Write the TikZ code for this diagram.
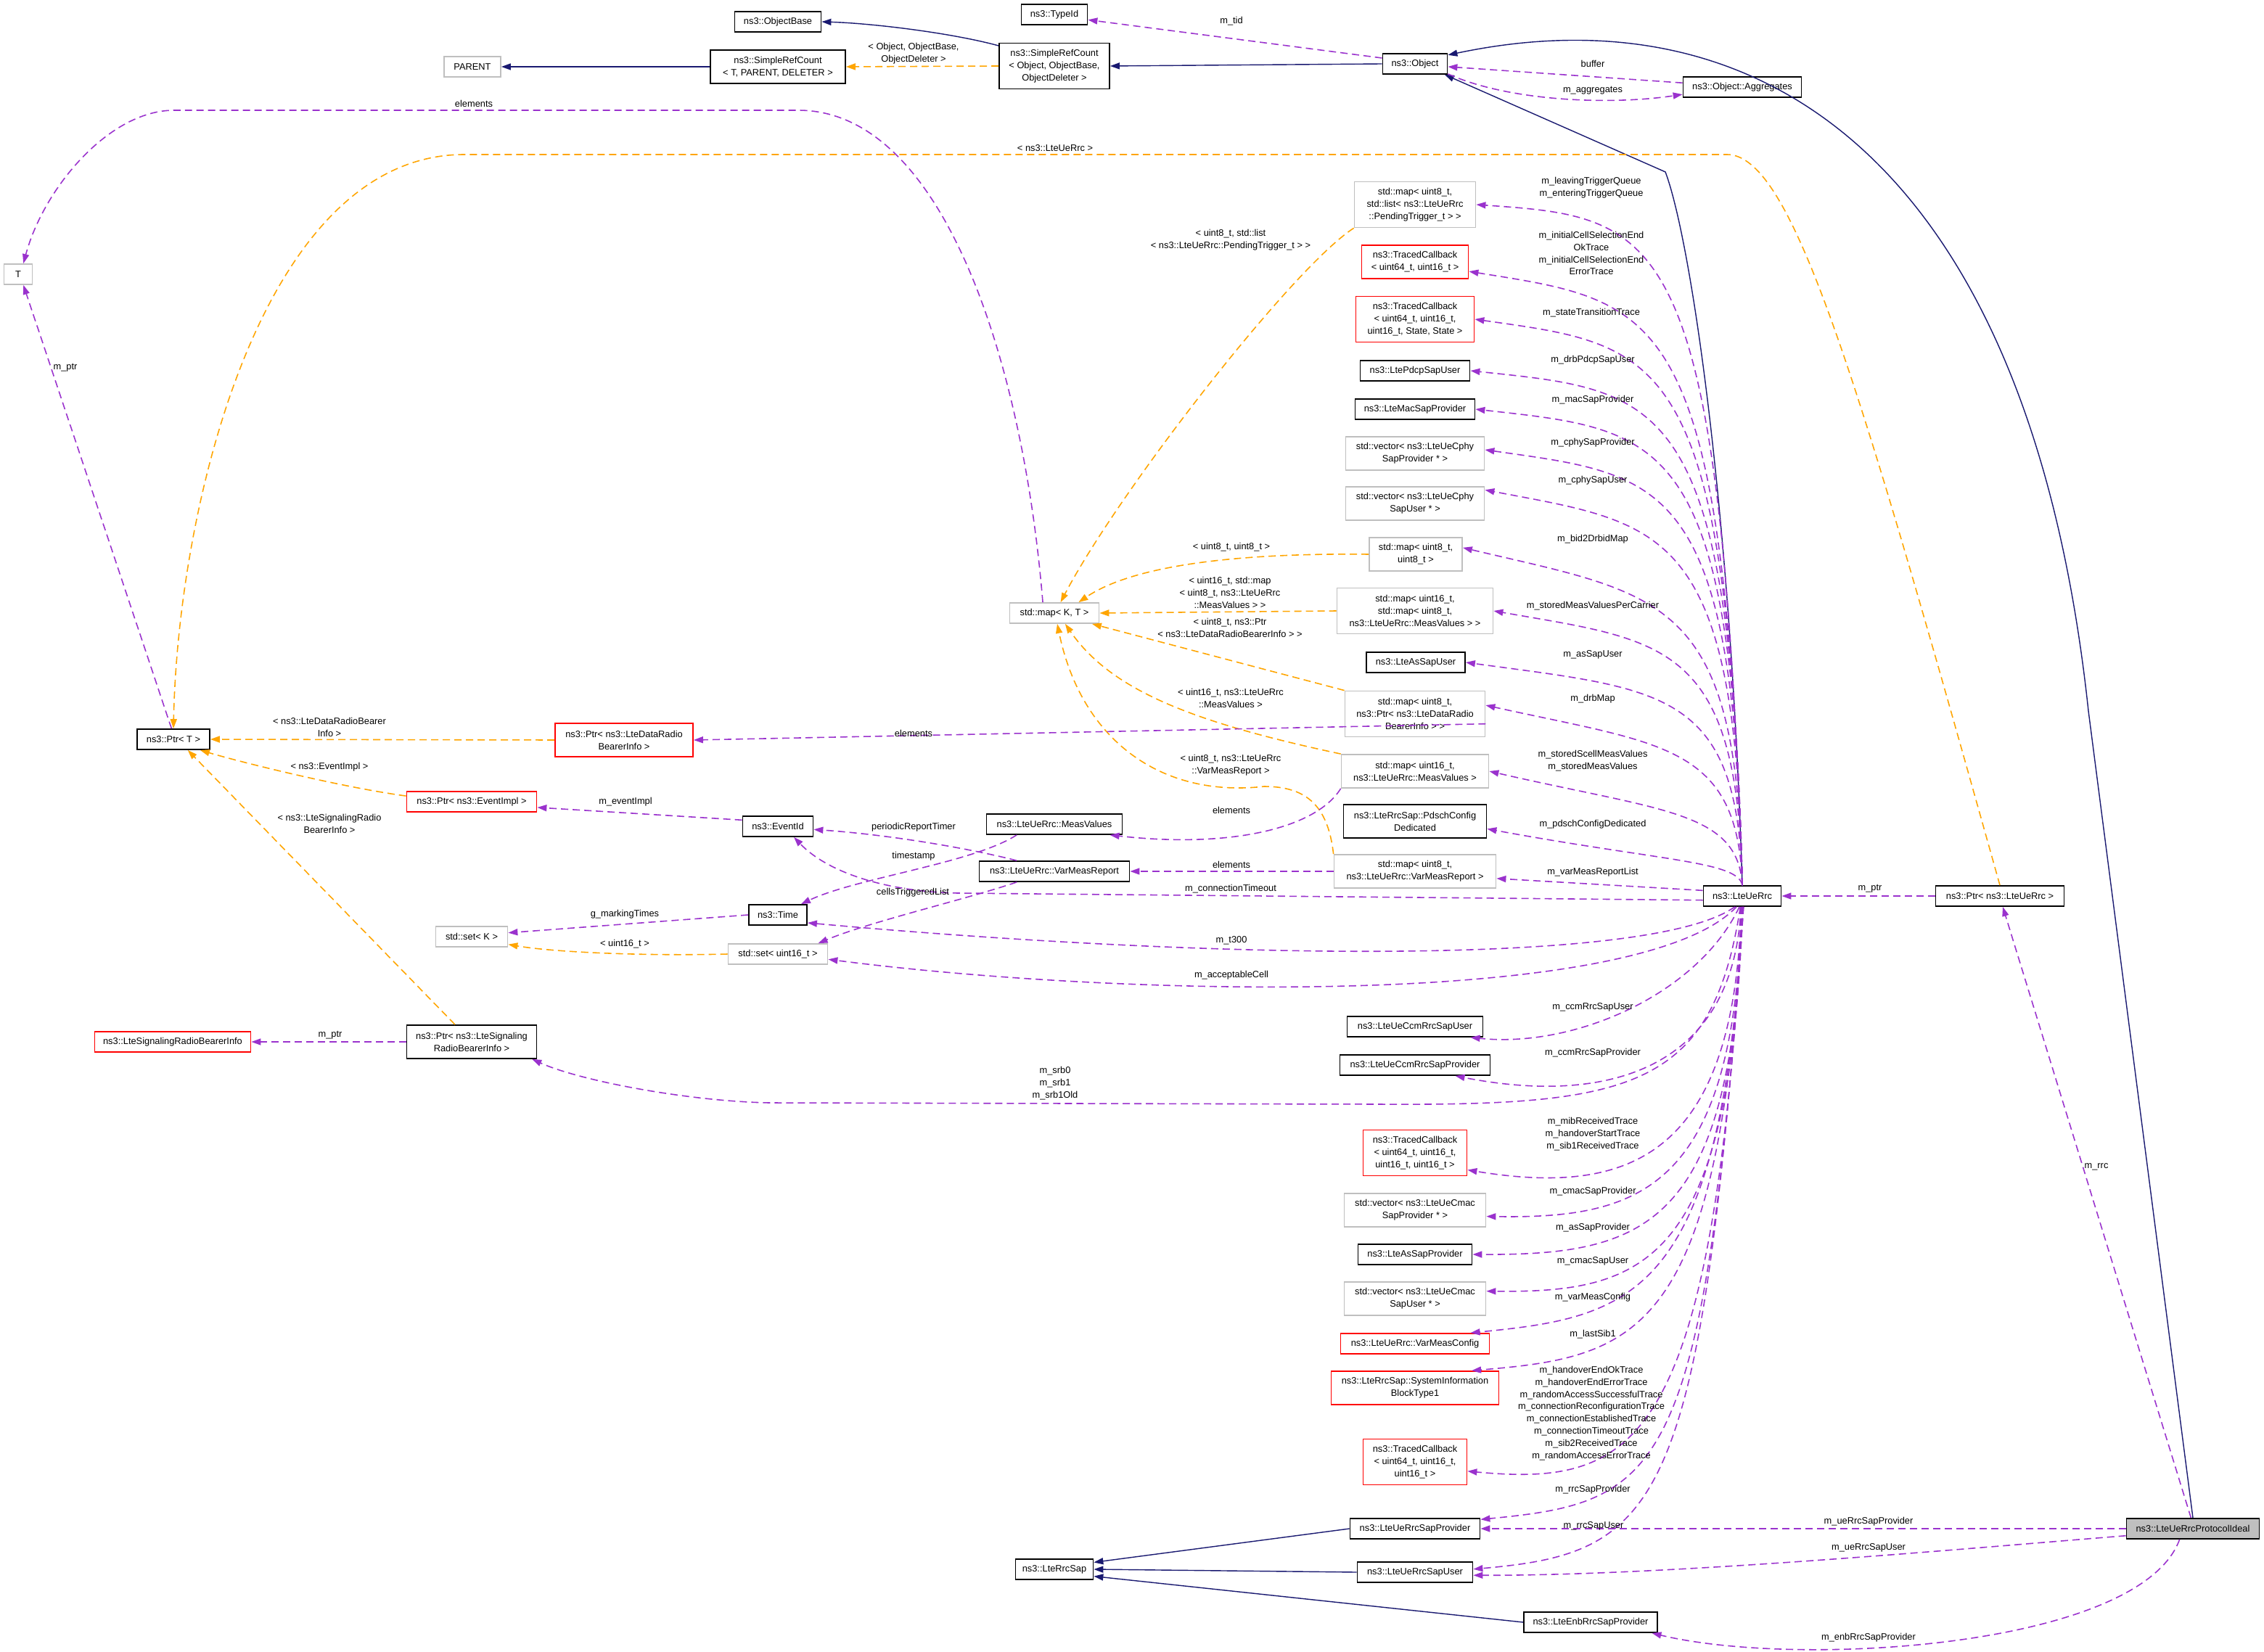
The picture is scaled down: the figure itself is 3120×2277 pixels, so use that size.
\documentclass[tikz,border=0pt]{standalone}
\usepackage{fontspec}
\setmainfont{Liberation Sans}
\usetikzlibrary{arrows.meta}
\definecolor{useViolet}{HTML}{9A32CD}
\definecolor{tplOrange}{HTML}{FFA500}
\definecolor{inhNavy}{HTML}{191970}
\definecolor{edgeGrey}{HTML}{BFBFBF}
\definecolor{truncRed}{HTML}{FF0000}

\begin{document}
\begin{tikzpicture}[x=0.02cm,y=-0.02cm,
    font=\fontsize{7.3pt}{9.6pt}\selectfont,
    box/.style={draw=black,line width=1pt,fill=white,align=center,inner sep=1pt,minimum height=0.56cm},
    greybox/.style={box,draw=edgeGrey},
    redbox/.style={box,draw=truncRed},
    wd/.style={minimum width=#1*0.02cm},
    two/.style={minimum height=0.92cm},
    three/.style={minimum height=1.26cm},
    lab/.style={align=center,inner sep=0pt},
    inherit/.style={draw=inhNavy,line width=0.8pt,-{Triangle[length=0.26cm,width=0.18cm]}},
    usage/.style={draw=useViolet,line width=0.9pt,dash pattern=on 0.2cm off 0.12cm,-{Triangle[length=0.26cm,width=0.18cm]}},
    templ/.style={usage,draw=tplOrange}]
    \useasboundingbox (0,0) rectangle (3120,2277);

    \node[box,wd=119] (objbase) at (1072,30) {ns3::ObjectBase};
    \node[box,wd=91] (typeid) at (1453,20) {ns3::TypeId};
    \node[greybox,wd=78] (parent) at (651,92) {PARENT};
    \node[box,two,wd=186] (srcT) at (1072,92) {ns3::SimpleRefCount\\< T, PARENT, DELETER >};
    \node[box,three,wd=152] (srcObj) at (1453,91) {ns3::SimpleRefCount\\< Object, ObjectBase,\\ObjectDeleter >};
    \node[box,wd=89] (object) at (1950,88) {ns3::Object};
    \node[box,wd=163] (aggr) at (2401,120) {ns3::Object::Aggregates};
    \node[greybox,wd=39] (tT) at (25,378) {T};
    \node[box,wd=100] (ptrT) at (239,1019) {ns3::Ptr< T >};
    \node[redbox,wd=215] (sigInfo) at (238,1436) {ns3::LteSignalingRadioBearerInfo};
    \node[box,two,wd=179] (ptrSig) at (650,1436) {ns3::Ptr< ns3::LteSignaling\\RadioBearerInfo >};
    \node[redbox,two,wd=190] (ptrDrb) at (860,1020) {ns3::Ptr< ns3::LteDataRadio\\BearerInfo >};
    \node[redbox,wd=179] (ptrEv) at (650,1105) {ns3::Ptr< ns3::EventImpl >};
    \node[greybox,wd=99] (setK) at (650,1291) {std::set< K >};
    \node[greybox,wd=123] (mapKT) at (1453,845) {std::map< K, T >};
    \node[box,wd=97] (eventId) at (1072,1139) {ns3::EventId};
    \node[box,wd=80] (nsTime) at (1072,1261) {ns3::Time};
    \node[greybox,wd=137] (setU16) at (1072,1315) {std::set< uint16\_t >};
    \node[box,wd=187] (measV) at (1453,1136) {ns3::LteUeRrc::MeasValues};
    \node[box,wd=207] (varRep) at (1453,1201) {ns3::LteUeRrc::VarMeasReport};
    \node[box,wd=107] (rrcSap) at (1453,2163) {ns3::LteRrcSap};

    \node[greybox,three,wd=167] (mapA) at (1950,282) {std::map< uint8\_t,\\std::list< ns3::LteUeRrc\\::PendingTrigger\_t > >};
    \node[redbox,two,wd=147] (tcA) at (1950,361) {ns3::TracedCallback\\< uint64\_t, uint16\_t >};
    \node[redbox,three,wd=163] (tcB) at (1950,440) {ns3::TracedCallback\\< uint64\_t, uint16\_t,\\uint16\_t, State, State >};
    \node[box,wd=151] (pdcpU) at (1950,511) {ns3::LtePdcpSapUser};
    \node[box,wd=165] (macP) at (1950,564) {ns3::LteMacSapProvider};
    \node[greybox,two,wd=191] (cphyP) at (1950,625) {std::vector< ns3::LteUeCphy\\SapProvider * >};
    \node[greybox,two,wd=191] (cphyU) at (1950,694) {std::vector< ns3::LteUeCphy\\SapUser * >};
    \node[greybox,two,wd=128] (mapU8) at (1951,764) {std::map< uint8\_t,\\uint8\_t >};
    \node[greybox,three,wd=215] (mapSt) at (1950,842) {std::map< uint16\_t,\\std::map< uint8\_t,\\ns3::LteUeRrc::MeasValues > >};
    \node[box,wd=136] (asU) at (1951,913) {ns3::LteAsSapUser};
    \node[greybox,three,wd=193] (mapDrb) at (1950,984) {std::map< uint8\_t,\\ns3::Ptr< ns3::LteDataRadio\\BearerInfo > >};
    \node[greybox,two,wd=203] (mapMV) at (1950,1063) {std::map< uint16\_t,\\ns3::LteUeRrc::MeasValues >};
    \node[box,two,wd=197] (pdsch) at (1950,1132) {ns3::LteRrcSap::PdschConfig\\Dedicated};
    \node[greybox,two,wd=223] (mapVR) at (1950,1201) {std::map< uint8\_t,\\ns3::LteUeRrc::VarMeasReport >};
    \node[box,wd=107] (rrc) at (2401,1235) {ns3::LteUeRrc};
    \node[box,wd=177] (ptrRrc) at (2756,1235) {ns3::Ptr< ns3::LteUeRrc >};
    \node[box,wd=187] (ccmU) at (1950,1415) {ns3::LteUeCcmRrcSapUser};
    \node[box,wd=207] (ccmP) at (1950,1468) {ns3::LteUeCcmRrcSapProvider};
    \node[redbox,three,wd=143] (tcC) at (1950,1589) {ns3::TracedCallback\\< uint64\_t, uint16\_t,\\uint16\_t, uint16\_t >};
    \node[greybox,two,wd=195] (cmacP) at (1950,1668) {std::vector< ns3::LteUeCmac\\SapProvider * >};
    \node[box,wd=157] (asP) at (1950,1729) {ns3::LteAsSapProvider};
    \node[greybox,two,wd=195] (cmacU) at (1950,1790) {std::vector< ns3::LteUeCmac\\SapUser * >};
    \node[redbox,wd=205] (measCfg) at (1950,1852) {ns3::LteUeRrc::VarMeasConfig};
    \node[redbox,two,wd=231] (sib1) at (1950,1913) {ns3::LteRrcSap::SystemInformation\\BlockType1};
    \node[redbox,three,wd=143] (tcD) at (1950,2015) {ns3::TracedCallback\\< uint64\_t, uint16\_t,\\uint16\_t >};
    \node[box,wd=179] (ueSapP) at (1950,2107) {ns3::LteUeRrcSapProvider};
    \node[box,wd=159] (ueSapU) at (1950,2167) {ns3::LteUeRrcSapUser};
    \node[box,wd=184] (enbSapP) at (2192,2236) {ns3::LteEnbRrcSapProvider};
    \node[box,wd=183,fill=edgeGrey] (ideal) at (3022,2107) {ns3::LteUeRrcProtocolIdeal};

    \draw[inherit] (srcT) -- (parent);
    \draw[inherit] (srcObj.160) .. controls (1310,45) and (1200,32) .. (objbase.east);
    \draw[inherit] (object.west) -- (srcObj.east);
    \draw[inherit] (ideal.north) -- (2878,980) .. controls (2800,250) and (2450,-20) .. (object.15);
    \draw[inherit] (rrc.north) .. controls (2385,700) and (2330,330) .. (2295,237) -- (object.-20);
    \draw[inherit] (ueSapP.west) -- (rrcSap.10);
    \draw[inherit] (ueSapU.west) -- (rrcSap.east);
    \draw[inherit] (enbSapP.west) -- (rrcSap.-10);

    \draw[templ] (srcObj.west) -- (srcT.east);
    \draw[templ] (ptrRrc.north) .. controls (2560,520) and (2470,213) .. (2380,213) -- (640,213) .. controls (360,213) and (245,700) .. (ptrT.north);
    \draw[templ] (mapA.south west) .. controls (1780,370) and (1540,680) .. (mapKT.60);
    \draw[templ] (mapU8.west) .. controls (1700,762) and (1560,780) .. (mapKT.24);
    \draw[templ] (mapSt.west) -- (mapKT.east);
    \draw[templ] (mapDrb.north west) -- (mapKT.-16);
    \draw[templ] (mapMV.north west) .. controls (1640,995) and (1530,950) .. (mapKT.-45);
    \draw[templ] (mapVR.north west) .. controls (1830,1110) and (1800,1084) .. (1742,1084) .. controls (1600,1100) and (1490,1020) .. (mapKT.-75);
    \draw[templ] (ptrDrb.west) -- (ptrT.east);
    \draw[templ] (ptrEv.175) .. controls (470,1085) and (330,1050) .. (ptrT.-22);
    \draw[templ] (ptrSig.134) -- (ptrT.-37);
    \draw[templ] (setU16.west) .. controls (880,1318) and (760,1312) .. (setK.-12);

    \draw[usage] (object.170) -- (typeid.-9);
    \draw[usage] (aggr.176) -- (object.-5);
    \draw[usage] (object.-17) .. controls (2080,140) and (2220,145) .. (aggr.187);
    \draw[usage] (mapKT.137) .. controls (1410,500) and (1300,152) .. (1100,152) -- (240,152) .. controls (150,152) and (60,260) .. (tT.64);
    \draw[usage] (ptrT.100) -- (tT.-64);
    \draw[usage] (ptrSig.west) -- (sigInfo.east);
    \draw[usage] (eventId.170) -- (ptrEv.-5);
    \draw[usage] (mapDrb.-8) -- (ptrDrb.east);
    \draw[usage] (mapMV.south west) .. controls (1815,1140) and (1700,1170) .. (measV.-11);
    \draw[usage] (mapVR.west) -- (varRep.east);
    \draw[usage] (varRep.164) .. controls (1330,1168) and (1220,1150) .. (eventId.-5);
    \draw[usage] (measV.-164) .. controls (1340,1190) and (1180,1210) .. (nsTime.25);
    \draw[usage] (varRep.-164) .. controls (1330,1240) and (1200,1270) .. (setU16.15);
    \draw[usage] (nsTime.west) -- (setK.6);
    \draw[usage] (rrc.186) -- (1320,1231) .. controls (1220,1229) and (1140,1202) .. (eventId.-34);
    \draw[usage] (rrc.-125) .. controls (2280,1330) and (1700,1325) .. (nsTime.-15);
    \draw[usage] (rrc.-118) .. controls (2260,1390) and (1550,1375) .. (setU16.-6);
    \draw[usage] (rrc.-100) .. controls (2360,1500) and (2250,1524) .. (1900,1522) -- (1060,1520) .. controls (950,1518) and (800,1490) .. (ptrSig.-16);

    \draw[usage] (rrc.north) .. controls (2370,307) and (2291,300) .. (mapA.east);
    \draw[usage] (rrc.north) .. controls (2375,417) and (2291,417) .. (tcA.-10);
    \draw[usage] (rrc.north) .. controls (2380,477) and (2291,477) .. (tcB.east);
    \draw[usage] (rrc.north) .. controls (2385,539) and (2291,539) .. (pdcpU.east);
    \draw[usage] (rrc.north) .. controls (2388,593) and (2291,593) .. (macP.east);
    \draw[usage] (rrc.north) .. controls (2390,655) and (2291,655) .. (cphyP.3);
    \draw[usage] (rrc.north) .. controls (2392,722) and (2291,722) .. (cphyU.11);
    \draw[usage] (rrc.north) .. controls (2394,820) and (2291,820) .. (mapU8.8);
    \draw[usage] (rrc.north) .. controls (2395,883) and (2291,883) .. (mapSt.east);
    \draw[usage] (rrc.north) .. controls (2395,950) and (2291,950) .. (asU.east);
    \draw[usage] (rrc.north) .. controls (2395,1026) and (2291,1026) .. (mapDrb.7);
    \draw[usage] (rrc.north) .. controls (2395,1118) and (2291,1118) .. (mapMV.east);
    \draw[usage] (rrc.north) .. controls (2395,1187) and (2291,1187) .. (pdsch.-6);
    \draw[usage] (rrc.172) -- (mapVR.-5);

    \draw[usage] (rrc.-105) .. controls (2340,1370) and (2170,1445) .. (ccmU.-11);
    \draw[usage] (rrc.-97) .. controls (2390,1470) and (2220,1525) .. (ccmP.-15);
    \draw[usage] (rrc.-95) .. controls (2390,1590) and (2250,1650) .. (tcC.-18);
    \draw[usage] (rrc.-93) .. controls (2390,1640) and (2260,1680) .. (cmacP.-5);
    \draw[usage] (rrc.south) .. controls (2388,1690) and (2270,1730) .. (asP.east);
    \draw[usage] (rrc.-88) .. controls (2385,1740) and (2270,1782) .. (cmacU.6);
    \draw[usage] (rrc.-87) .. controls (2375,1790) and (2250,1815) .. (measCfg.11);
    \draw[usage] (rrc.-86) .. controls (2370,1840) and (2260,1870) .. (sib1.17);
    \draw[usage] (rrc.-85) .. controls (2360,1990) and (2260,2050) .. (tcD.-10);
    \draw[usage] (rrc.-84) .. controls (2350,2040) and (2290,2070) .. (ueSapP.8);
    \draw[usage] (rrc.-83) .. controls (2345,2080) and (2290,2140) .. (ueSapU.3);

    \draw[usage] (ptrRrc.west) -- (rrc.east);
    \draw[usage] (ideal.100) -- (ptrRrc.-75);
    \draw[usage] (ideal.west) -- (ueSapP.east);
    \draw[usage] (ideal.186) .. controls (2700,2135) and (2300,2172) .. (ueSapU.-3);
    \draw[usage] (ideal.-141) .. controls (2950,2270) and (2480,2300) .. (enbSapP.-10);

    \node[lab] (lbTid) at (1697,29) {m\_tid};
    \node[lab] (lbBuf) at (2195,88) {buffer};
    \node[lab] (lbAgg) at (2195,125) {m\_aggregates};
    \node[lab] (lbSrc) at (1259,74) {< Object, ObjectBase,\\ObjectDeleter >};
    \node[lab] (lbElT) at (653,143) {elements};
    \node[lab] (lbPtrRrcT) at (1454,204) {< ns3::LteUeRrc >};
    \node[lab] (lbPend) at (1696,331) {< uint8\_t, std::list\\< ns3::LteUeRrc::PendingTrigger\_t > >};
    \node[lab] (lbQueue) at (2193,259) {m\_leavingTriggerQueue\\m\_enteringTriggerQueue};
    \node[lab] (lbInit) at (2193,349) {m\_initialCellSelectionEnd\\OkTrace\\m\_initialCellSelectionEnd\\ErrorTrace};
    \node[lab] (lbState) at (2193,431) {m\_stateTransitionTrace};
    \node[lab] (lbPdcp) at (2195,496) {m\_drbPdcpSapUser};
    \node[lab] (lbMac) at (2195,551) {m\_macSapProvider};
    \node[lab] (lbCphyP) at (2195,610) {m\_cphySapProvider};
    \node[lab] (lbCphyU) at (2195,662) {m\_cphySapUser};
    \node[lab] (lbBid) at (2195,743) {m\_bid2DrbidMap};
    \node[lab] (lbPerCar) at (2195,835) {m\_storedMeasValuesPerCarrier};
    \node[lab] (lbAsU) at (2195,902) {m\_asSapUser};
    \node[lab] (lbDrbMap) at (2195,963) {m\_drbMap};
    \node[lab] (lbScell) at (2195,1049) {m\_storedScellMeasValues\\m\_storedMeasValues};
    \node[lab] (lbPdsch) at (2195,1136) {m\_pdschConfigDedicated};
    \node[lab] (lbVarList) at (2195,1202) {m\_varMeasReportList};
    \node[lab] (lbU8) at (1697,754) {< uint8\_t, uint8\_t >};
    \node[lab] (lbStMap) at (1695,817) {< uint16\_t, std::map\\< uint8\_t, ns3::LteUeRrc\\::MeasValues > >};
    \node[lab] (lbDrbTpl) at (1695,865) {< uint8\_t, ns3::Ptr\\< ns3::LteDataRadioBearerInfo > >};
    \node[lab] (lbMVTpl) at (1696,962) {< uint16\_t, ns3::LteUeRrc\\::MeasValues >};
    \node[lab] (lbVRTpl) at (1696,1055) {< uint8\_t, ns3::LteUeRrc\\::VarMeasReport >};
    \node[lab] (lbElMV) at (1697,1117) {elements};
    \node[lab] (lbElVR) at (1697,1192) {elements};
    \node[lab] (lbElDrb) at (1259,1011) {elements};
    \node[lab] (lbPeriodic) at (1259,1140) {periodicReportTimer};
    \node[lab] (lbStamp) at (1259,1180) {timestamp};
    \node[lab] (lbCells) at (1258,1230) {cellsTriggeredList};
    \node[lab] (lbConnTo) at (1696,1225) {m\_connectionTimeout};
    \node[lab] (lbT300) at (1697,1296) {m\_t300};
    \node[lab] (lbAccept) at (1697,1344) {m\_acceptableCell};
    \node[lab] (lbSrb) at (1454,1493) {m\_srb0\\m\_srb1\\m\_srb1Old};
    \node[lab] (lbDrbPtr) at (454,1002) {< ns3::LteDataRadioBearer\\Info >};
    \node[lab] (lbEvPtr) at (454,1057) {< ns3::EventImpl >};
    \node[lab] (lbSigPtr) at (454,1135) {< ns3::LteSignalingRadio\\BearerInfo >};
    \node[lab] (lbEvImpl) at (862,1105) {m\_eventImpl};
    \node[lab] (lbMark) at (861,1260) {g\_markingTimes};
    \node[lab] (lbU16) at (861,1301) {< uint16\_t >};
    \node[lab] (lbSigM) at (455,1427) {m\_ptr};
    \node[lab] (lbPtrT) at (90,507) {m\_ptr};
    \node[lab] (lbCcmU) at (2195,1388) {m\_ccmRrcSapUser};
    \node[lab] (lbCcmP) at (2195,1451) {m\_ccmRrcSapProvider};
    \node[lab] (lbMib) at (2195,1563) {m\_mibReceivedTrace\\m\_handoverStartTrace\\m\_sib1ReceivedTrace};
    \node[lab] (lbCmacP) at (2195,1642) {m\_cmacSapProvider};
    \node[lab] (lbAsP) at (2195,1692) {m\_asSapProvider};
    \node[lab] (lbCmacU) at (2195,1738) {m\_cmacSapUser};
    \node[lab] (lbCfg) at (2195,1788) {m\_varMeasConfig};
    \node[lab] (lbSib) at (2195,1839) {m\_lastSib1};
    \node[lab] (lbHo) at (2193,1948) {m\_handoverEndOkTrace\\m\_handoverEndErrorTrace\\m\_randomAccessSuccessfulTrace\\m\_connectionReconfigurationTrace\\m\_connectionEstablishedTrace\\m\_connectionTimeoutTrace\\m\_sib2ReceivedTrace\\m\_randomAccessErrorTrace};
    \node[lab] (lbRrcP) at (2195,2053) {m\_rrcSapProvider};
    \node[lab] (lbRrcU) at (2196,2103) {m\_rrcSapUser};
    \node[lab] (lbUeP) at (2575,2097) {m\_ueRrcSapProvider};
    \node[lab] (lbUeU) at (2575,2133) {m\_ueRrcSapUser};
    \node[lab] (lbEnb) at (2575,2257) {m\_enbRrcSapProvider};
    \node[lab] (lbPtrRrc) at (2577,1225) {m\_ptr};
    \node[lab] (lbRrc) at (2889,1608) {m\_rrc};
  \end{tikzpicture}
\end{document}
